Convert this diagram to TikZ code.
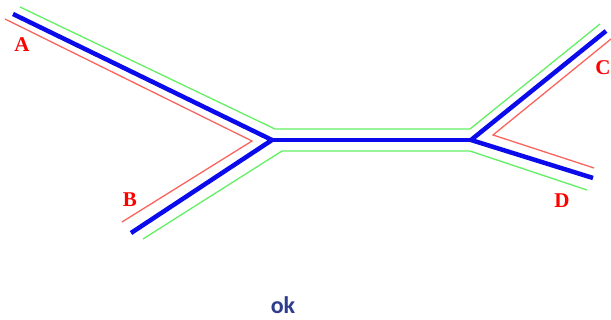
\documentclass[tikz,border=0pt]{standalone}
\usepackage{fontspec}
\setmainfont{Liberation Serif}
\newfontfamily\okfont{Carlito}
\definecolor{tubeblue}{RGB}{10,10,235}
\definecolor{wallgreen}{RGB}{100,240,100}
\definecolor{wallred}{RGB}{250,100,95}
\definecolor{okblue}{RGB}{45,60,140}
\begin{document}
\begin{tikzpicture}[x=1pt,y=-1pt,
  tube/.style={draw=tubeblue,line width=4.5pt,line join=miter},
  gwall/.style={draw=wallgreen,line width=1.3pt},
  rwall/.style={draw=wallred,line width=1.3pt},
  lbl/.style={text=red,font=\bfseries\fontsize{21}{21}\selectfont,inner sep=0pt}]
\useasboundingbox (0,0) rectangle (611,320);
% blue centre lines
\coordinate (A) at (13,14);
\coordinate (J1) at (272,140);
\coordinate (B) at (131,233);
\coordinate (J2) at (471,140);
\coordinate (C) at (606,31);
\coordinate (D) at (593,178);
\draw[tube] (A) -- (J1) -- (B);
\draw[tube] (J1) -- (J2);
\draw[tube] (C) -- (J2) -- (D);
% green walls
\coordinate (g1) at (20,7);
\coordinate (g2) at (275,129);
\coordinate (g3) at (470,129);
\coordinate (g4) at (600,24);
\coordinate (g5) at (143,239);
\coordinate (g6) at (282,151);
\coordinate (g7) at (470,151);
\coordinate (g8) at (587,190);
\draw[gwall] (g1) -- (g2) -- (g3) -- (g4);
\draw[gwall] (g5) -- (g6) -- (g7) -- (g8);
% red walls
\coordinate (r1) at (5,19);
\coordinate (r2) at (252,141);
\coordinate (r3) at (122,222);
\coordinate (r4) at (611,39);
\coordinate (r5) at (493,135);
\coordinate (r6) at (594,168);
\draw[rwall] (r1) -- (r2) -- (r3);
\draw[rwall] (r4) -- (r5) -- (r6);
% labels
\node[lbl] (la) at (22,45) {A};
\node[lbl] (lb) at (130,200) {B};
\node[lbl] (lc) at (603,68) {C};
\node[lbl] (ld) at (562,201) {D};
\node[text=okblue,font=\okfont\bfseries\fontsize{24}{24}\selectfont,inner sep=0pt] (ok) at (283,305) {ok};
\end{tikzpicture}
\end{document}
